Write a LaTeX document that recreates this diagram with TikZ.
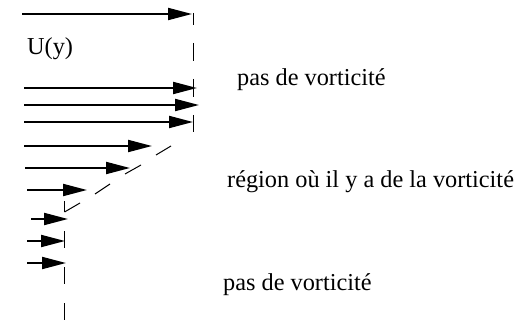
\documentclass[tikz,border=0pt]{standalone}
\usepackage{fontspec}
\setmainfont{Liberation Serif}
\usetikzlibrary{arrows.meta}
\tikzset{
  flow/.style={line width=2pt,-{Triangle[length=24pt,width=12pt]}},
  guide/.style={line width=1pt},
  lbl/.style={inner sep=0pt,anchor=base west,font=\fontsize{24.3}{29}\selectfont}
}
\begin{document}
\begin{tikzpicture}[x=1pt,y=-1pt]
\useasboundingbox (0,0) rectangle (518,323);
% velocity arrows
\draw[flow] (22,14) -- (192,14);
\draw[flow] (24,88) -- (197,88);
\draw[flow] (24,105) -- (199,105);
\draw[flow] (24,122) -- (193,122);
\draw[flow] (24,146) -- (152,146);
\draw[flow] (25,168) -- (130,168);
\draw[flow] (27,190) -- (87,190);
\draw[flow] (31,219) -- (68,219);
\draw[flow] (27,241) -- (65,241);
\draw[flow] (27,263) -- (66,263);
% dashed edge of the vortical region
\foreach \a/\b in {13/25,43/61,79/97,115/132}
  \draw[guide] (193.5,\a) -- (193.5,\b);
\foreach \xa/\ya/\xb/\yb in {171/146/156/155,141/165/125/174,110/184/95/194,80/203/64.5/212}
  \draw[guide] (\xa,\ya) -- (\xb,\yb);
\foreach \a/\b in {201/212,231/248,267/284,303/320}
  \draw[guide] (64.5,\a) -- (64.5,\b);
% labels
\node[lbl] (u) at (27,55) {U(y)};
\node[lbl] (top) at (237,86) {pas de vorticité};
\node[lbl] (mid) at (227,187) {région où il y a de la vorticité};
\node[lbl] (bot) at (223,290) {pas de vorticité};
\end{tikzpicture}
\end{document}
